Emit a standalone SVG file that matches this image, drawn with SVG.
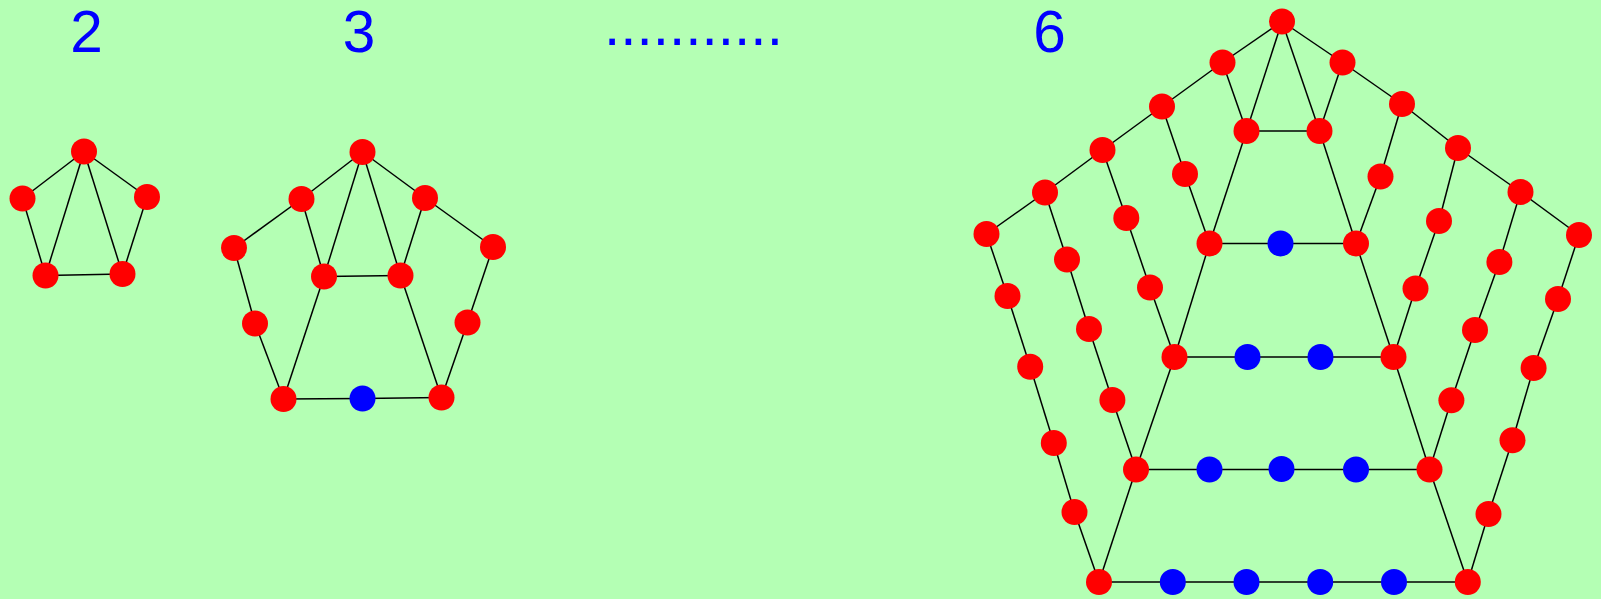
<svg xmlns="http://www.w3.org/2000/svg" width="1601" height="599" viewBox="0 0 1601 599">
<style>
.e{stroke:#000;stroke-width:1.5;fill:none}
.r{fill:#ff0000}
.b{fill:#0000ff}
.t{font-family:"Liberation Sans",Arial,sans-serif;font-size:58.5px;fill:#0000ff;text-anchor:middle}
</style>
<rect width="1601" height="599" fill="#b4ffb4"/>
<g id="labels">
<text class="t" x="86.5" y="52">2</text>
<text class="t" x="359" y="51.5">3</text>
<text class="t" x="693.5" y="44.7">...........</text>
<text class="t" x="1049.5" y="51.5">6</text>
</g>
<g id="connectors" class="e">
<!-- graph 2 -->
<line x1="84" y1="151.5" x2="22.5" y2="198.5"/>
<line x1="84" y1="151.5" x2="147" y2="197"/>
<line x1="22.5" y1="198.5" x2="45.5" y2="275.5"/>
<line x1="147" y1="197" x2="122.5" y2="274"/>
<line x1="45.5" y1="275.5" x2="122.5" y2="274"/>
<line x1="84" y1="151.5" x2="45.5" y2="275.5"/>
<line x1="84" y1="151.5" x2="122.5" y2="274"/>
<!-- graph 3 -->
<line x1="362.5" y1="152" x2="301.5" y2="199"/>
<line x1="301.5" y1="199" x2="234" y2="248"/>
<line x1="362.5" y1="152" x2="425" y2="198"/>
<line x1="425" y1="198" x2="493" y2="247"/>
<line x1="301.5" y1="199" x2="324" y2="276.5"/>
<line x1="425" y1="198" x2="400.5" y2="275.5"/>
<line x1="362.5" y1="152" x2="324" y2="276.5"/>
<line x1="362.5" y1="152" x2="400.5" y2="275.5"/>
<line x1="324" y1="276.5" x2="400.5" y2="275.5"/>
<line x1="234" y1="248" x2="255" y2="323.5"/>
<line x1="255" y1="323.5" x2="283.5" y2="399"/>
<line x1="493" y1="247" x2="467.5" y2="322.5"/>
<line x1="467.5" y1="322.5" x2="441.5" y2="397.5"/>
<line x1="324" y1="276.5" x2="283.5" y2="399"/>
<line x1="400.5" y1="275.5" x2="441.5" y2="397.5"/>
<line x1="283.5" y1="399" x2="362.5" y2="398.5"/>
<line x1="362.5" y1="398.5" x2="441.5" y2="397.5"/>
<!-- graph 6 outer -->
<line x1="1282" y1="21.5" x2="1222.5" y2="62.5"/>
<line x1="1222.5" y1="62.5" x2="1162" y2="106.5"/>
<line x1="1162" y1="106.5" x2="1102.5" y2="150"/>
<line x1="1102.5" y1="150" x2="1045" y2="192.5"/>
<line x1="1045" y1="192.5" x2="986.5" y2="234"/>
<line x1="1282" y1="21.5" x2="1342.5" y2="62.5"/>
<line x1="1342.5" y1="62.5" x2="1402" y2="104"/>
<line x1="1402" y1="104" x2="1458" y2="148"/>
<line x1="1458" y1="148" x2="1520.5" y2="192"/>
<line x1="1520.5" y1="192" x2="1579" y2="235"/>
<!-- graph 6 central -->
<line x1="1282" y1="21.5" x2="1246.5" y2="131"/>
<line x1="1246.5" y1="131" x2="1209.5" y2="243.5"/>
<line x1="1209.5" y1="243.5" x2="1174.5" y2="357"/>
<line x1="1174.5" y1="357" x2="1136" y2="469.5"/>
<line x1="1136" y1="469.5" x2="1099" y2="582"/>
<line x1="1282" y1="21.5" x2="1319.5" y2="131"/>
<line x1="1319.5" y1="131" x2="1356" y2="243.5"/>
<line x1="1356" y1="243.5" x2="1393.5" y2="357"/>
<line x1="1393.5" y1="357" x2="1429.5" y2="469.5"/>
<line x1="1429.5" y1="469.5" x2="1467.8" y2="582"/>
<!-- graph 6 left chains -->
<line x1="1222.5" y1="62.5" x2="1246.5" y2="131"/>
<line x1="1162" y1="106.5" x2="1185" y2="174"/>
<line x1="1185" y1="174" x2="1209.5" y2="243.5"/>
<line x1="1102.5" y1="150" x2="1126.3" y2="218"/>
<line x1="1126.3" y1="218" x2="1150" y2="287.5"/>
<line x1="1150" y1="287.5" x2="1174.5" y2="357"/>
<line x1="1045" y1="192.5" x2="1067" y2="259.5"/>
<line x1="1067" y1="259.5" x2="1089" y2="329"/>
<line x1="1089" y1="329" x2="1112.4" y2="400"/>
<line x1="1112.4" y1="400" x2="1136" y2="469.5"/>
<line x1="986.5" y1="234" x2="1007.5" y2="296"/>
<line x1="1007.5" y1="296" x2="1030.2" y2="366.7"/>
<line x1="1030.2" y1="366.7" x2="1053.8" y2="443"/>
<line x1="1053.8" y1="443" x2="1074.5" y2="512"/>
<line x1="1074.5" y1="512" x2="1099" y2="582"/>
<!-- graph 6 right chains -->
<line x1="1342.5" y1="62.5" x2="1319.5" y2="131"/>
<line x1="1402" y1="104" x2="1380.5" y2="176.5"/>
<line x1="1380.5" y1="176.5" x2="1356" y2="243.5"/>
<line x1="1458" y1="148" x2="1439" y2="221"/>
<line x1="1439" y1="221" x2="1415.5" y2="288.5"/>
<line x1="1415.5" y1="288.5" x2="1393.5" y2="357"/>
<line x1="1520.5" y1="192" x2="1499.4" y2="262"/>
<line x1="1499.4" y1="262" x2="1475" y2="330"/>
<line x1="1475" y1="330" x2="1451.4" y2="400.3"/>
<line x1="1451.4" y1="400.3" x2="1429.5" y2="469.5"/>
<line x1="1579" y1="235" x2="1558" y2="299"/>
<line x1="1558" y1="299" x2="1533.6" y2="368"/>
<line x1="1533.6" y1="368" x2="1512.5" y2="440.3"/>
<line x1="1512.5" y1="440.3" x2="1488.5" y2="514"/>
<line x1="1488.5" y1="514" x2="1467.8" y2="582"/>
<!-- graph 6 rows -->
<line x1="1246.5" y1="131" x2="1319.5" y2="131"/>
<line x1="1209.5" y1="243.5" x2="1356" y2="243.5"/>
<line x1="1174.5" y1="357" x2="1393.5" y2="357"/>
<line x1="1136" y1="469.5" x2="1429.5" y2="469.5"/>
<line x1="1099" y1="582" x2="1467.8" y2="582"/>
</g>
<g id="g2-top"><circle class="r" cx="84" cy="151.5" r="13"/></g>
<g id="g2-l"><circle class="r" cx="22.5" cy="198.5" r="13"/></g>
<g id="g2-r"><circle class="r" cx="147" cy="197" r="13"/></g>
<g id="g2-bl"><circle class="r" cx="45.5" cy="275.5" r="13"/></g>
<g id="g2-br"><circle class="r" cx="122.5" cy="274" r="13"/></g>
<g id="g3-top"><circle class="r" cx="362.5" cy="152" r="13"/></g>
<g id="g3-a"><circle class="r" cx="301.5" cy="199" r="13"/></g>
<g id="g3-b"><circle class="r" cx="425" cy="198" r="13"/></g>
<g id="g3-fl"><circle class="r" cx="234" cy="248" r="13"/></g>
<g id="g3-fr"><circle class="r" cx="493" cy="247" r="13"/></g>
<g id="g3-il"><circle class="r" cx="324" cy="276.5" r="13"/></g>
<g id="g3-ir"><circle class="r" cx="400.5" cy="275.5" r="13"/></g>
<g id="g3-lm"><circle class="r" cx="255" cy="323.5" r="13"/></g>
<g id="g3-rm"><circle class="r" cx="467.5" cy="322.5" r="13"/></g>
<g id="g3-bl"><circle class="r" cx="283.5" cy="399" r="13"/></g>
<g id="g3-br"><circle class="r" cx="441.5" cy="397.5" r="13"/></g>
<g id="g3-blue"><circle class="b" cx="362.5" cy="398.5" r="13"/></g>
<g id="g6-apex"><circle class="r" cx="1282" cy="21.5" r="13"/></g>
<g id="g6-L1"><circle class="r" cx="1222.5" cy="62.5" r="13"/></g>
<g id="g6-L2"><circle class="r" cx="1162" cy="106.5" r="13"/></g>
<g id="g6-L3"><circle class="r" cx="1102.5" cy="150" r="13"/></g>
<g id="g6-L4"><circle class="r" cx="1045" cy="192.5" r="13"/></g>
<g id="g6-L5"><circle class="r" cx="986.5" cy="234" r="13"/></g>
<g id="g6-R1"><circle class="r" cx="1342.5" cy="62.5" r="13"/></g>
<g id="g6-R2"><circle class="r" cx="1402" cy="104" r="13"/></g>
<g id="g6-R3"><circle class="r" cx="1458" cy="148" r="13"/></g>
<g id="g6-R4"><circle class="r" cx="1520.5" cy="192" r="13"/></g>
<g id="g6-R5"><circle class="r" cx="1579" cy="235" r="13"/></g>
<g id="g6-r1L"><circle class="r" cx="1246.5" cy="131" r="13"/></g>
<g id="g6-r1R"><circle class="r" cx="1319.5" cy="131" r="13"/></g>
<g id="g6-r2L"><circle class="r" cx="1209.5" cy="243.5" r="13"/></g>
<g id="g6-r2B"><circle class="b" cx="1280.5" cy="243.5" r="13"/></g>
<g id="g6-r2R"><circle class="r" cx="1356" cy="243.5" r="13"/></g>
<g id="g6-r3L"><circle class="r" cx="1174.5" cy="357" r="13"/></g>
<g id="g6-r3B1"><circle class="b" cx="1247.5" cy="357" r="13"/></g>
<g id="g6-r3B2"><circle class="b" cx="1320.5" cy="357" r="13"/></g>
<g id="g6-r3R"><circle class="r" cx="1393.5" cy="357" r="13"/></g>
<g id="g6-r4L"><circle class="r" cx="1136" cy="469.5" r="13"/></g>
<g id="g6-r4B1"><circle class="b" cx="1209.5" cy="469.5" r="13"/></g>
<g id="g6-r4B2"><circle class="b" cx="1281.5" cy="469" r="13"/></g>
<g id="g6-r4B3"><circle class="b" cx="1356" cy="469.5" r="13"/></g>
<g id="g6-r4R"><circle class="r" cx="1429.5" cy="469.5" r="13"/></g>
<g id="g6-r5L"><circle class="r" cx="1099" cy="582" r="13"/></g>
<g id="g6-r5B1"><circle class="b" cx="1172.8" cy="582" r="13"/></g>
<g id="g6-r5B2"><circle class="b" cx="1246.5" cy="582" r="13"/></g>
<g id="g6-r5B3"><circle class="b" cx="1320.2" cy="582" r="13"/></g>
<g id="g6-r5B4"><circle class="b" cx="1394" cy="582" r="13"/></g>
<g id="g6-r5R"><circle class="r" cx="1467.8" cy="582" r="13"/></g>
<g id="g6-c2L1"><circle class="r" cx="1185" cy="174" r="13"/></g>
<g id="g6-c3L1"><circle class="r" cx="1126.3" cy="218" r="13"/></g>
<g id="g6-c3L2"><circle class="r" cx="1150" cy="287.5" r="13"/></g>
<g id="g6-c4L1"><circle class="r" cx="1067" cy="259.5" r="13"/></g>
<g id="g6-c4L2"><circle class="r" cx="1089" cy="329" r="13"/></g>
<g id="g6-c4L3"><circle class="r" cx="1112.4" cy="400" r="13"/></g>
<g id="g6-c5L1"><circle class="r" cx="1007.5" cy="296" r="13"/></g>
<g id="g6-c5L2"><circle class="r" cx="1030.2" cy="366.7" r="13"/></g>
<g id="g6-c5L3"><circle class="r" cx="1053.8" cy="443" r="13"/></g>
<g id="g6-c5L4"><circle class="r" cx="1074.5" cy="512" r="13"/></g>
<g id="g6-c2R1"><circle class="r" cx="1380.5" cy="176.5" r="13"/></g>
<g id="g6-c3R1"><circle class="r" cx="1439" cy="221" r="13"/></g>
<g id="g6-c3R2"><circle class="r" cx="1415.5" cy="288.5" r="13"/></g>
<g id="g6-c4R1"><circle class="r" cx="1499.4" cy="262" r="13"/></g>
<g id="g6-c4R2"><circle class="r" cx="1475" cy="330" r="13"/></g>
<g id="g6-c4R3"><circle class="r" cx="1451.4" cy="400.3" r="13"/></g>
<g id="g6-c5R1"><circle class="r" cx="1558" cy="299" r="13"/></g>
<g id="g6-c5R2"><circle class="r" cx="1533.6" cy="368" r="13"/></g>
<g id="g6-c5R3"><circle class="r" cx="1512.5" cy="440.3" r="13"/></g>
<g id="g6-c5R4"><circle class="r" cx="1488.5" cy="514" r="13"/></g>
</svg>
